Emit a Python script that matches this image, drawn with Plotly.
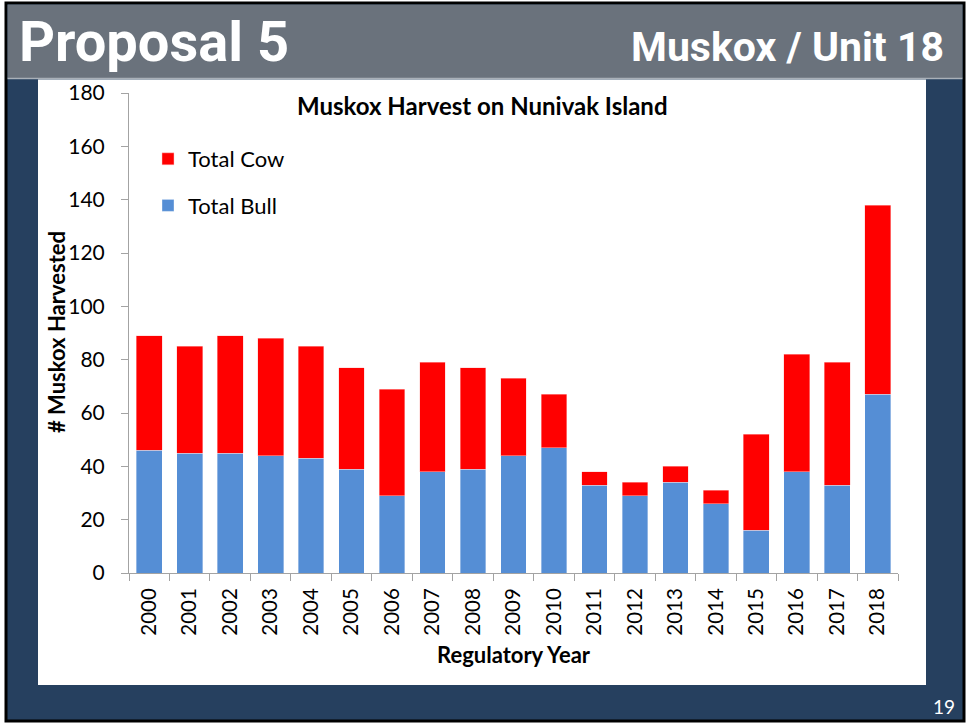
import plotly.graph_objects as go

years = [str(y) for y in range(2000, 2019)]
total_bull = [46, 45, 45, 44, 43, 39, 29, 38, 39, 44, 47, 33, 29, 34, 26, 16, 38, 33, 67]
total_cow = [43, 40, 44, 44, 42, 38, 40, 41, 38, 29, 20, 5, 5, 6, 5, 36, 44, 46, 71]
y_ticks = [0, 20, 40, 60, 80, 100, 120, 140, 160, 180]

W, H = 968, 723
L, R, T, B = 129, 898, 93, 573  # plot area pixels


def px(x):
    return (x - L) / (R - L)


def py(y):
    return (B - y) / (B - T)


NAVY = "#26405F"
GRAY = "#6A727C"
AXIS = "#A3A3A3"
FONT = "Lato, Calibri, Arial, sans-serif"

fig = go.Figure()
fig.add_trace(go.Bar(
    x=years, y=total_bull, name="Total Bull", legendgroup="bull", legendrank=2,
    marker=dict(color="#558ED5", line=dict(color="rgba(255,255,255,0.6)", width=0.6)),
))
fig.add_trace(go.Bar(
    x=years, y=total_cow, name="Total Cow", legendgroup="cow", legendrank=1,
    marker=dict(color="#FF0000", line=dict(color="rgba(255,200,200,0.8)", width=0.6)),
))

shapes = [
    # slide background with black border
    dict(type="rect", xref="paper", yref="paper", x0=px(6), x1=px(964), y0=py(3), y1=py(721),
         fillcolor=NAVY, line=dict(color="black", width=3), layer="below"),
    # header band
    dict(type="rect", xref="paper", yref="paper", x0=px(7.5), x1=px(962.5), y0=py(4.5), y1=py(78),
         fillcolor=GRAY, line=dict(width=0), layer="below"),
    dict(type="line", xref="paper", yref="paper", x0=px(7.5), x1=px(962.5), y0=py(78.5), y1=py(78.5),
         line=dict(color="#A9B0B8", width=1.5), layer="below"),
    # white chart area
    dict(type="rect", xref="paper", yref="paper", x0=px(38), x1=px(926), y0=py(79.5), y1=py(685),
         fillcolor="white", line=dict(width=0), layer="below"),
]

annotations = [
    dict(text="Proposal 5", xref="paper", yref="paper", x=px(17), y=py(42), xanchor="left",
         yanchor="middle", showarrow=False,
         font=dict(family="Roboto, Arial, sans-serif", size=56, color="white", weight="bold")),
    dict(text="Muskox / Unit 18", xref="paper", yref="paper", x=px(946), y=py(47), xanchor="right",
         yanchor="middle", showarrow=False,
         font=dict(family="Roboto, Arial, sans-serif", size=41, color="white", weight="bold")),
    dict(text="<b>Muskox Harvest on Nunivak Island</b>", xref="paper", yref="paper", x=px(482),
         y=py(105), xanchor="center", yanchor="middle", showarrow=False,
         font=dict(family=FONT, size=24, color="black")),
    dict(text="<b># Muskox Harvested</b>", xref="paper", yref="paper", x=px(56), y=py(332),
         xanchor="center", yanchor="middle", textangle=-90, showarrow=False,
         font=dict(family=FONT, size=22, color="black")),
    dict(text="19", xref="paper", yref="paper", x=px(957), y=py(706), xanchor="right",
         yanchor="middle", showarrow=False,
         font=dict(family=FONT, size=19, color="white")),
]

fig.update_layout(
    width=W, height=H,
    margin=dict(l=L, r=W - R, t=T, b=H - B, pad=0),
    barmode="stack",
    bargap=0.365,
    paper_bgcolor="white",
    plot_bgcolor="rgba(0,0,0,0)",
    font=dict(family=FONT, size=20, color="black"),
    shapes=shapes,
    annotations=annotations,
    showlegend=True,
    legend=dict(
        traceorder="grouped", tracegroupgap=15,
        x=px(148), y=py(138), xanchor="left", yanchor="top",
        bgcolor="rgba(0,0,0,0)", font=dict(family=FONT, size=22, color="black"),
        itemwidth=30,
    ),
    xaxis=dict(
        type="category", tickson="boundaries", ticks="outside", ticklen=7, tickcolor=AXIS,
        showline=True, linecolor=AXIS, linewidth=1, tickangle=-90, ticklabelstandoff=6,
        tickfont=dict(family=FONT, size=20.5, color="black"), showgrid=False,
        title=dict(text="<b>Regulatory Year</b>", font=dict(family=FONT, size=22, color="black"),
                   standoff=12),
    ),
    yaxis=dict(
        range=[0, 180], tickvals=y_ticks, ticks="outside", ticklen=7, tickcolor=AXIS,
        showline=True, linecolor=AXIS, linewidth=1, showgrid=False, zeroline=False,
        ticklabelstandoff=12,
        tickfont=dict(family=FONT, size=21, color="black"),
    ),
)

fig.write_html("out.html", config={"displayModeBar": False},
               post_script="document.body.style.margin='0';")
